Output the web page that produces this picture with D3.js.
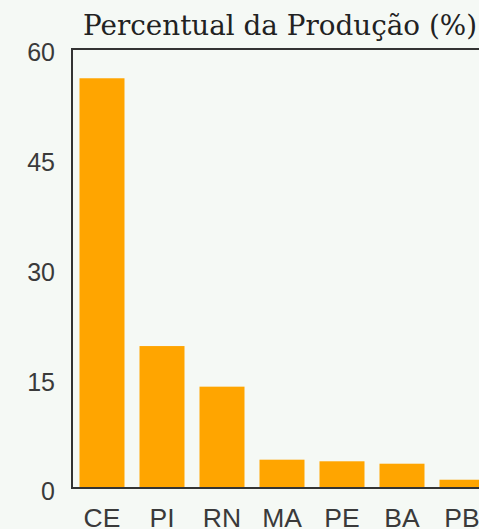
<!DOCTYPE html>
<html>
<head>
<meta charset="utf-8">
<script src="https://cdn.jsdelivr.net/npm/d3@7"></script>
<style>
  body { margin: 0; background: #f5f9f5; overflow: hidden; }
  svg { display: block; }
</style>
</head>
<body>
<script>
'use strict';

// chart values
const states = ["CE", "PI", "RN", "MA", "PE", "BA", "PB"];
const shares = [56.0, 19.4, 13.85, 3.87, 3.65, 3.32, 1.13];
const yTicks = [0, 15, 30, 45, 60];
const title = "Percentual da Produção (%)";

(function () {
  const svg = d3.select('body')
    .append('svg')
    .attr('width', 479)
    .attr('height', 529);

  // plot box runs past the right edge, like the cropped original
  const plotLeft = 72, plotRight = 492, plotTop = 49, plotBottom = 488;

  const xScale = d3.scaleBand()
    .domain(states)
    .range([plotLeft, plotRight])
    .paddingInner(0.25)
    .paddingOuter(0.125);

  const yScale = d3.scaleLinear()
    .domain([0, 60])
    .range([plotBottom, plotTop]);

  // bars
  svg.selectAll('.bar')
    .data(states)
    .enter()
    .append('rect')
    .attr('class', 'bar')
    .attr('x', (d) => xScale(d))
    .attr('y', (d, i) => yScale(shares[i]))
    .attr('width', xScale.bandwidth())
    .attr('height', (d, i) => yScale(0) - yScale(shares[i]))
    .attr('fill', '#ffa500');

  // frame
  svg.append('rect')
    .attr('x', plotLeft)
    .attr('y', plotTop)
    .attr('width', plotRight - plotLeft)
    .attr('height', plotBottom - plotTop)
    .attr('fill', 'none')
    .attr('stroke', '#333')
    .attr('stroke-width', 2);

  // y axis labels (no tick marks)
  let yAxis = d3.axisLeft(yScale).tickValues(yTicks).tickSize(0).tickPadding(17);
  let gy = svg.append('g')
    .attr('transform', `translate(${plotLeft}, 0)`)
    .call(yAxis);
  gy.select('.domain').remove();
  gy.selectAll('text')
    .attr('dy', '0.47em')
    .style('font-family', 'Liberation Sans, Arial, sans-serif')
    .style('font-size', '25px')
    .attr('fill', '#3a3a3a');

  // x axis labels
  let xAxis = d3.axisBottom(xScale).tickSize(0).tickPadding(20);
  let gx = svg.append('g')
    .attr('transform', `translate(0, ${plotBottom})`)
    .call(xAxis);
  gx.select('.domain').remove();
  gx.selectAll('text')
    .style('font-family', 'Liberation Sans, Arial, sans-serif')
    .style('font-size', '26.5px')
    .attr('fill', '#3a3a3a');

  // title
  svg.append('text')
    .attr('x', 83)
    .attr('y', 35)
    .attr('textLength', 394)
    .attr('lengthAdjust', 'spacingAndGlyphs')
    .style('font-family', 'DejaVu Serif, serif')
    .style('font-size', '27.5px')
    .attr('fill', '#222')
    .text(title);
})();
</script>
</body>
</html>
